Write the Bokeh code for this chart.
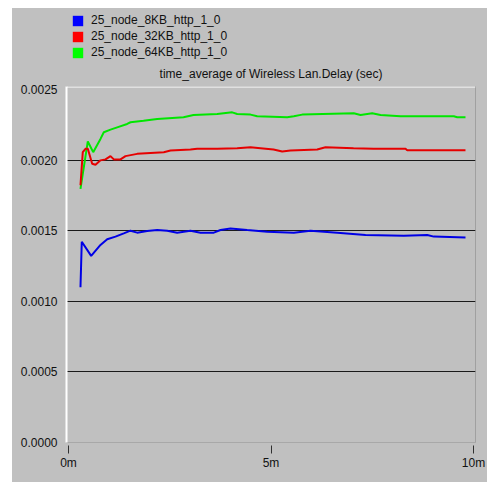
from bokeh.plotting import figure
from bokeh.layouts import column
from bokeh.models import (FixedTicker, NumeralTickFormatter, Legend, LegendItem, Span,
                          Range1d, Title)
from bokeh.embed import file_html
from bokeh.resources import INLINE

# ---- data (time in minutes, delay in seconds) ----
series_names = ["25_node_8KB_http_1_0", "25_node_32KB_http_1_0", "25_node_64KB_http_1_0"]
series_colors = ["#0000e6", "#e60000", "#00e600"]
legend_colors = ["#0000ff", "#ff0000", "#00ff00"]

t_8kb = [0.296, 0.328, 0.560, 0.790, 0.956, 1.160, 1.365, 1.531, 1.696, 1.943, 2.190, 2.437,
         2.684, 3.012, 3.259, 3.588, 3.753, 4.000, 4.412, 4.906, 5.563, 5.975, 6.635, 7.333,
         8.279, 8.857, 9.020, 9.802]
d_8kb = [0.001099, 0.001422, 0.001322, 0.001399, 0.001439, 0.001458, 0.001481, 0.001500,
         0.001486, 0.001498, 0.001505, 0.001500, 0.001486, 0.001500, 0.001486, 0.001486,
         0.001505, 0.001516, 0.001505, 0.001493, 0.001486, 0.001500, 0.001486, 0.001470,
         0.001465, 0.001470, 0.001458, 0.001451]

t_32kb = [0.296, 0.353, 0.420, 0.477, 0.585, 0.667, 0.790, 0.914, 1.037, 1.119, 1.284, 1.407,
          1.696, 2.025, 2.353, 2.519, 3.012, 3.178, 3.672, 4.165, 4.494, 4.741, 5.062, 5.277,
          5.481, 6.141, 6.346, 7.037, 7.531, 8.321, 8.363, 9.802]
d_32kb = [0.001822, 0.002056, 0.002080, 0.002080, 0.001974, 0.001967, 0.001998, 0.002005,
          0.002028, 0.002005, 0.002005, 0.002028, 0.002044, 0.002051, 0.002056, 0.002068,
          0.002075, 0.002080, 0.002080, 0.002084, 0.002091, 0.002084, 0.002075, 0.002061,
          0.002068, 0.002075, 0.002091, 0.002084, 0.002080, 0.002080, 0.002070, 0.002070]

t_64kb = [0.296, 0.477, 0.610, 0.790, 0.872, 1.037, 1.202, 1.449, 1.531, 1.852, 2.190, 2.840,
          3.086, 3.672, 4.042, 4.165, 4.494, 4.659, 5.400, 5.563, 5.770, 7.044, 7.210, 7.499,
          7.704, 8.198, 9.514, 9.598, 9.802]
d_64kb = [0.001796, 0.002132, 0.002056, 0.002150, 0.002197, 0.002216, 0.002232, 0.002256,
          0.002268, 0.002279, 0.002291, 0.002303, 0.002319, 0.002326, 0.002338, 0.002326,
          0.002322, 0.002310, 0.002303, 0.002310, 0.002322, 0.002331, 0.002319, 0.002331,
          0.002319, 0.002310, 0.002310, 0.002303, 0.002303]

y_ticks = [0.0, 0.0005, 0.0010, 0.0015, 0.0020, 0.0025]
grid_ticks = [0.0005, 0.0010, 0.0015, 0.0020]
x_ticks = [0, 5, 10]
x_tick_labels = {0: "0m", 5: "5m", 10: "10m"}
title_text = "time_average of Wireless Lan.Delay (sec)"

FONT = "Liberation Sans"
BG = "#c0c0c0"
Y_TOP = 0.0025211
NAN = float("nan")

# ---------- legend strip (top) ----------
lg = figure(width=475, height=52, output_backend="svg", toolbar_location=None,
            x_axis_type=None, y_axis_type=None, title_location=None,
            x_range=Range1d(0, 1), y_range=Range1d(0, 1),
            min_border=0, background_fill_color=None, border_fill_color=None)
lg.outline_line_color = None
lg.xgrid.visible = False
lg.ygrid.visible = False
items = []
for name, col in zip(series_names, legend_colors):
    # swatch-only renderer: no visible mark, only its legend entry
    r = lg.quad(left=[NAN], right=[NAN], top=[NAN], bottom=[NAN],
                fill_color=col, line_color=None)
    items.append(LegendItem(label=name, renderers=[r]))
legend = Legend(items=items, location=(5, 1), orientation="vertical",
                glyph_width=13, glyph_height=13, label_height=12, spacing=2,
                padding=0, margin=0, border_line_color=None, background_fill_alpha=0,
                label_text_font=FONT, label_text_font_size="12px", label_text_color="#111111",
                label_standoff=7)
lg.add_layout(legend)

# ---------- main chart ----------
p = figure(width=475, height=422, output_backend="svg", toolbar_location=None,
           title_location=None,
           x_range=Range1d(-0.049, 10.049), y_range=Range1d(0.0, Y_TOP),
           min_border_left=54, min_border_right=12, min_border_top=24, min_border_bottom=40,
           background_fill_color=BG, border_fill_color=BG)
p.outline_line_color = "#a0a0a0"
p.outline_line_width = 1

title = Title(text=title_text, align="center", vertical_align="middle", text_font=FONT,
              text_font_style="normal", text_font_size="12px", text_color="#111111",
              standoff=10)
p.add_layout(title, "above")

yax = p.yaxis[0]
yax.ticker = FixedTicker(ticks=y_ticks)
yax.formatter = NumeralTickFormatter(format="0.0000")
yax.major_tick_line_color = None
yax.minor_tick_line_color = None
yax.axis_line_color = "white"
yax.axis_line_width = 2
yax.major_label_text_font = FONT
yax.major_label_text_font_size = "12px"
yax.major_label_text_color = "#111111"
yax.major_label_standoff = 3

xax = p.xaxis[0]
xax.ticker = FixedTicker(ticks=x_ticks)
xax.major_label_overrides = x_tick_labels
xax.minor_tick_line_color = None
xax.axis_line_color = "#a8a8a8"
xax.major_tick_line_color = "#303030"
xax.major_tick_out = 11
xax.major_tick_in = -3
xax.major_label_text_font = FONT
xax.major_label_text_font_size = "12px"
xax.major_label_text_color = "#111111"
xax.major_label_standoff = 2

p.xgrid.visible = False
p.ygrid.ticker = FixedTicker(ticks=grid_ticks)
p.ygrid.grid_line_color = "#1a1a1a"
p.ygrid.grid_line_width = 1

p.add_layout(Span(location=Y_TOP, dimension="width", line_color="white", line_width=2))

p.line(t_8kb, d_8kb, line_color=series_colors[0], line_width=2)
p.line(t_64kb, d_64kb, line_color=series_colors[2], line_width=2)
p.line(t_32kb, d_32kb, line_color=series_colors[1], line_width=2)

layout = column(lg, p, spacing=0)
layout.margin = (8, 0, 0, 12)
layout.styles = {"background-color": BG}

open("out.html", "w").write(file_html(layout, INLINE))
